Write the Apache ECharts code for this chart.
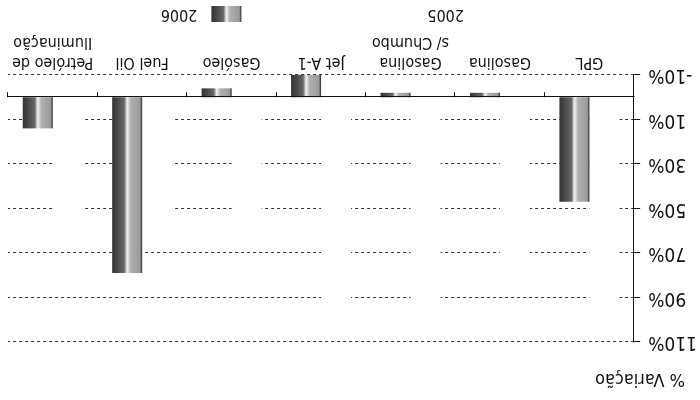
<!DOCTYPE html>
<html>
<head>
<meta charset="utf-8">
<script src="https://cdn.jsdelivr.net/npm/echarts@6/dist/echarts.min.js"></script>
<style>
  html, body { margin: 0; padding: 0; background: #fff; }
  /* a figura original foi digitalizada de pernas para o ar */
  #chart { width: 700px; height: 400px; transform: rotate(180deg); }
</style>
</head>
<body>
<div id="chart"></div>
<script>
var categories = ['GPL', 'Gasolina', 'Gasolina\ns/ Chumbo', 'Jet A-1', 'Gasóleo', 'Fuel Oil', 'Petróleo de\nIluminação'];
// 2005 sai branco no original (so se ve pelas falhas na grelha)
var values2005 = [100, 80, 100, 100, 60, 60, 60];
var values2006 = [47, -2, -2, -10, -4, 79, 14];
var yMin = -10, yMax = 110, yStep = 20;

var font = "'Liberation Sans Narrow', 'DejaVu Sans Condensed', sans-serif";

var barFill = new echarts.graphic.LinearGradient(0, 0, 1, 0, [
  { offset: 0, color: '#222' },
  { offset: 0.07, color: '#9a9a9a' },
  { offset: 0.38, color: '#b0b0b0' },
  { offset: 0.5, color: '#f2f2f2' },
  { offset: 0.6, color: '#666' },
  { offset: 0.85, color: '#454545' },
  { offset: 1, color: '#333' }
]);

var chart = echarts.init(document.getElementById('chart'));
var option = {
  animation: false,
  textStyle: { fontFamily: font, color: '#111' },
  title: {
    text: '% Variação',
    left: 10,
    top: 7,
    textStyle: { fontFamily: font, fontSize: 18, fontWeight: 'normal', color: '#111' }
  },
  legend: {
    left: 187,
    top: 373,
    itemWidth: 30,
    itemHeight: 16,
    itemGap: 186,
    icon: 'rect',
    textStyle: { fontFamily: font, fontSize: 16, color: '#111', padding: [0, 0, 0, 9] },
    data: ['2005', '2006']
  },
  grid: {
    left: 62,
    right: 8,
    top: 58,
    bottom: 75
  },
  xAxis: [{
    type: 'category',
    data: categories,
    position: 'bottom',
    axisLine: { show: false, onZero: false },
    axisTick: { show: false },
    axisLabel: {
      interval: 0,
      margin: 3,
      fontSize: 16,
      lineHeight: 20,
      color: '#111',
      fontFamily: font
    }
  }, {
    // linha do zero com as marcas entre categorias
    type: 'category',
    data: categories,
    position: 'top',
    z: 5,
    axisLine: { show: true, onZero: true, lineStyle: { color: '#111', width: 1 } },
    axisTick: { show: true, inside: true, length: 5, lineStyle: { color: '#111' } },
    axisLabel: { show: false }
  }],
  yAxis: {
    type: 'value',
    min: yMin,
    max: yMax,
    interval: yStep,
    axisLine: { show: true, lineStyle: { color: '#111', width: 1 } },
    axisTick: { show: true, length: 6, lineStyle: { color: '#111' } },
    axisLabel: {
      formatter: function (v) { return v + '%'; },
      margin: 14,
      fontSize: 19,
      color: '#111',
      fontFamily: font
    },
    splitLine: { show: true, lineStyle: { color: '#333', type: [3, 3], width: 1 } }
  },
  series: [{
    name: '2005',
    type: 'bar',
    barWidth: 30,
    barGap: '0%',
    data: values2005,
    itemStyle: { color: '#ffffff' }
  }, {
    name: '2006',
    type: 'bar',
    barWidth: 30,
    data: values2006,
    itemStyle: { color: barFill }
  }]
};
chart.setOption(option);
</script>
</body>
</html>
